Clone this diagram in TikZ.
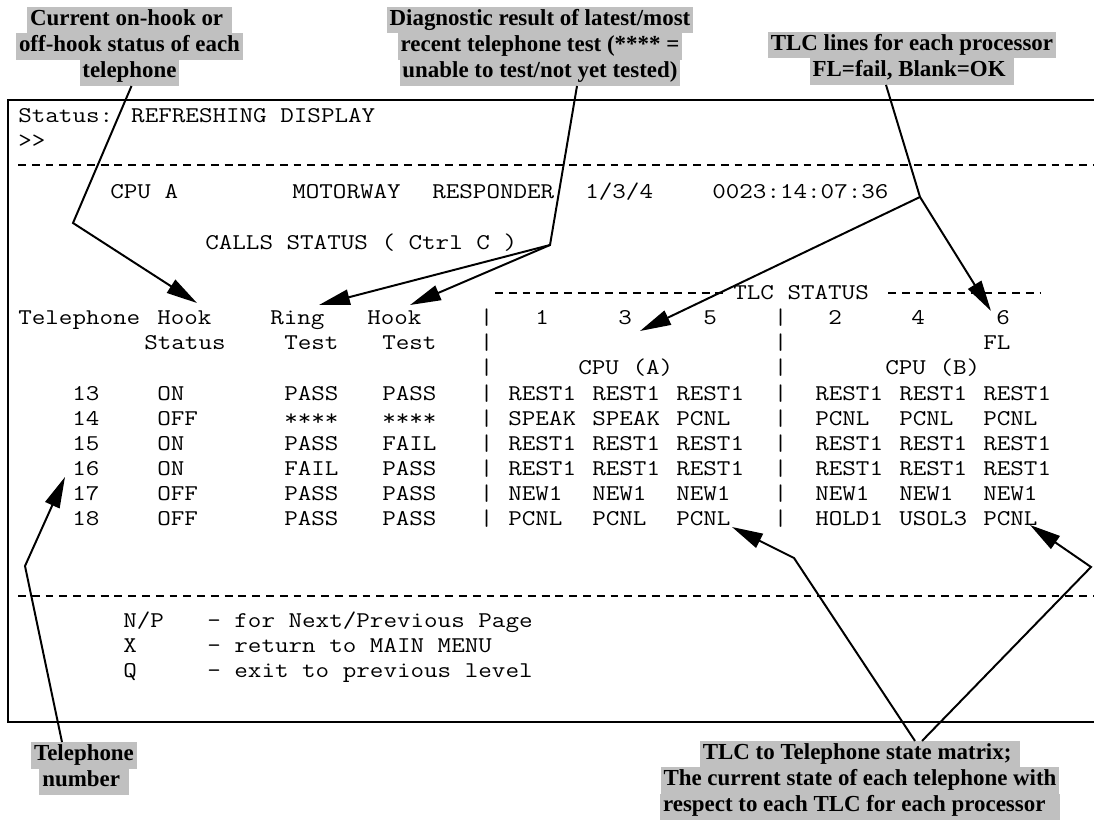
\documentclass[tikz,border=0pt]{standalone}
\usepackage{fontspec}
\setmainfont{Liberation Serif}
\newfontfamily\monofont{Latin Modern Mono}[FakeStretch=1.17]
\usepackage{tikz}
\usetikzlibrary{arrows.meta, positioning}
\definecolor{labelgray}{RGB}{192,192,192}
\setlength{\fboxsep}{0pt}
\newcommand{\hl}[1]{\colorbox{labelgray}{\strut\hspace{2pt}#1\hspace{2pt}}}

\begin{document}
\begin{tikzpicture}[
    x=0.025cm, y=-0.025cm,
    screen/.style={
        font=\fontsize{16pt}{18.6pt}\selectfont\monofont,
        inner sep=0pt, anchor=base west
    },
    callbox/.style={
        font=\fontsize{16.3pt}{18.6pt}\selectfont\bfseries,
        inner sep=0pt, align=center
    },
    dashrule/.style={
        draw, line width=0.8pt, dash pattern=on 5.6pt off 4.2pt
    },
    pointer/.style={
        draw, line width=1.4pt, line join=miter, -{Triangle[length=22pt,width=11pt]}
    }
]
\useasboundingbox (0,0) rectangle (1094,821);
\clip (0,0) rectangle (1094,821);

% Screen frame
\draw[line width=1.5pt] (8,100) rectangle (1120,722);

% Header lines
\node[screen] (status) at (18,122.5) {Status: REFRESHING DISPLAY};
\node[screen] (prompt) at (18,147.5) {>>};
\draw[dashrule] (18,165) -- (1094,165);
\node[screen] (cpua) at (110,198.5) {CPU A};
\node[screen] (motorway) at (292,198.5) {MOTORWAY};
\node[screen] (responder) at (432,198.5) {RESPONDER};
\node[screen] (version) at (585,198.5) {1/3/4};
\node[screen] (clock) at (712,198.5) {0023:14:07:36};
\node[screen] (calls) at (205,249.5) {CALLS STATUS ( Ctrl C )};

% TLC status header
\draw[dashrule] (495,293) -- (727,293);
\node[screen] (tlcstatus) at (733,299.5) {TLC STATUS};
\draw[dashrule] (888,293) -- (1040,293);

% Column headings
\node[screen] (telhead) at (18,324.5) {Telephone};
\node[screen] (hookhead) at (157,324.5) {Hook};
\node[screen] (ringhead) at (270,324.5) {Ring};
\node[screen] (testhead) at (367,324.5) {Hook};
\foreach \n/\x in {1/535, 3/618, 5/703, 2/828, 4/911, 6/996}
    \node[screen] (tlc\n) at (\x,324.5) {\n};
\node[screen] (hookstatus) at (144,349.5) {Status};
\node[screen] (ringtest) at (284,349.5) {Test};
\node[screen] (hooktest) at (382,349.5) {Test};
\node[screen] (fail) at (983,349.5) {FL};
\node[screen] (cpuleft) at (578,374.5) {CPU (A)};
\node[screen] (cpuright) at (885,374.5) {CPU (B)};

% Table rows
\foreach \num/\hookst/\ringres/\hookres/\lA/\lB/\lC/\rA/\rB/\rC [count=\i from 0] in {
    13/ON/PASS/PASS/REST1/REST1/REST1/REST1/REST1/REST1,
    14/OFF/****/****/SPEAK/SPEAK/PCNL/PCNL/PCNL/PCNL,
    15/ON/PASS/FAIL/REST1/REST1/REST1/REST1/REST1/REST1,
    16/ON/FAIL/PASS/REST1/REST1/REST1/REST1/REST1/REST1,
    17/OFF/PASS/PASS/NEW1/NEW1/NEW1/NEW1/NEW1/NEW1,
    18/OFF/PASS/PASS/PCNL/PCNL/PCNL/HOLD1/USOL3/PCNL}{
    \pgfmathsetmacro{\yb}{400.5+25*\i}
    \node[screen] (num\num) at (72,\yb) {\num};
    \node[screen] (hk\num) at (157,\yb) {\hookst};
    \node[screen] (rt\num) at (284,\yb) {\ringres};
    \node[screen] (ht\num) at (382,\yb) {\hookres};
    \node[screen] (la\num) at (508,\yb) {\lA};
    \node[screen] (lb\num) at (592,\yb) {\lB};
    \node[screen] (lc\num) at (676,\yb) {\lC};
    \node[screen] (ra\num) at (815,\yb) {\rA};
    \node[screen] (rb\num) at (899,\yb) {\rB};
    \node[screen] (rc\num) at (983,\yb) {\rC};
}

% Column bars
\foreach \yb in {324.5, 349.5, 374.5, 400.5, 425.5, 450.5, 475.5, 500.5, 525.5}{
    \node[screen] at (479.5,\yb) {|};
    \node[screen] at (773.5,\yb) {|};
}

% Footer
\draw[dashrule] (18,596) -- (1094,596);
\node[screen] (keynp) at (123,627.5) {N/P};
\node[screen] (textnp) at (207,627.5) {- for Next/Previous Page};
\node[screen] (keyx) at (123,652.5) {X};
\node[screen] (textx) at (207,652.5) {- return to MAIN MENU};
\node[screen] (keyq) at (123,677.5) {Q};
\node[screen] (textq) at (207,677.5) {- exit to previous level};

% Callout labels
\node[callbox] (onhook) at (129.5,46.5) {\hl{Current on-hook or\ }\\ \hl{off-hook status of each}\\ \hl{telephone}};
\node[callbox] (diag) at (540,46.5) {\hl{Diagnostic result of latest/most}\\ \hl{recent telephone test (**** =}\\ \hl{unable to test/not yet tested)}};
\node[callbox] (tlclines) at (912,58.5) {\hl{TLC lines for each processor}\\ \hl{FL=fail, Blank=OK\ }};
\node[callbox] (telnum) at (84,768.5) {\hl{Telephone}\\ \hl{number\ }};
\node[callbox] (statematrix) at (860,780.5) {\hl{TLC to Telephone state matrix;\ }\\ \hl{The current state of each telephone with}\\ \hl{respect to each TLC for each processor\ \ }};

% Bends and tips
\coordinate (hookbend) at (73,223);
\coordinate (hooktip) at (197,303);
\coordinate (diagbend) at (550,245);
\coordinate (ringtip) at (319,305);
\coordinate (testtip) at (410,305);
\coordinate (tlcbend) at (920,197);
\coordinate (sixtip) at (991,311);
\coordinate (threetip) at (640,331);
\coordinate (numbend) at (25,566);
\coordinate (numtip) at (65,477);
\coordinate (leftbend) at (794,558);
\coordinate (lefttip) at (732,527);
\coordinate (rightbend) at (1091,567);
\coordinate (righttip) at (1030,525);

% Draw connections
\draw[pointer] (onhook.south) ++(2,0) -- (hookbend) -- (hooktip);
\draw[pointer] (diag.south) ++(37,0) -- (diagbend) -- (ringtip);
\draw[pointer] (diagbend) -- (testtip);
\draw[pointer] (tlclines.south) ++(-26,0) -- (tlcbend) -- (sixtip);
\draw[pointer] (tlcbend) -- (threetip);
\draw[pointer] (telnum.north) ++(-22,0) -- (numbend) -- (numtip);
\draw[pointer] (statematrix.north) ++(55,0) -- (leftbend) -- (lefttip);
\draw[pointer] (statematrix.north) ++(62,0) -- (rightbend) -- (righttip);

\end{tikzpicture}
\end{document}
